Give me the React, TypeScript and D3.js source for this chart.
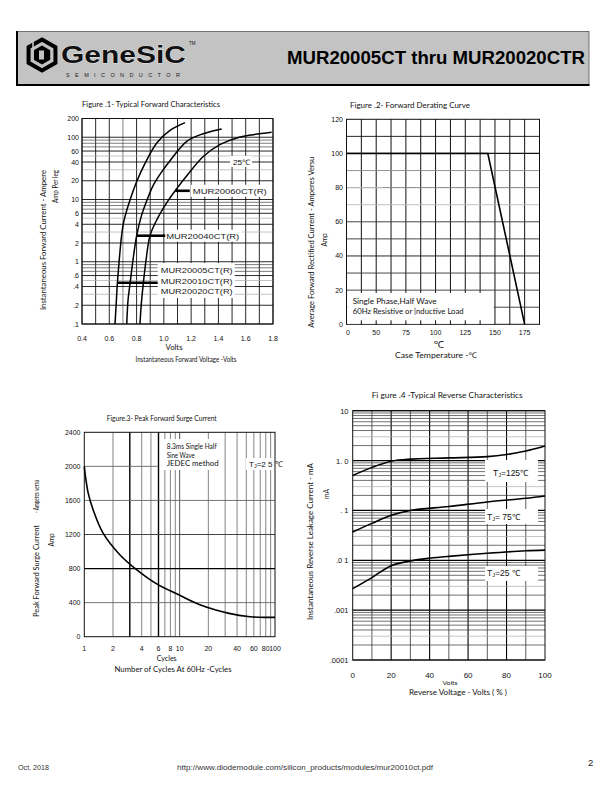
import React from "react";
import * as d3 from "d3";

// ---------------- Figure 1 data: Typical Forward Characteristics ----------------
const fig1XTicks = [0.4, 0.6, 0.8, 1.0, 1.2, 1.4, 1.6, 1.8];
const fig1XLabels = ["0.4", "0.6", "0.8", "1.0", "1.2", "1.4", "1.6", "1.8"];
const fig1YTicks = [200, 100, 60, 40, 20, 10, 6, 4, 2, 1, 0.6, 0.4, 0.2, 0.1];
const fig1YLabels = ["200", "100", "60", "40", "20", "10", "6", "4", "2", "1", ".6", ".4", ".2", ".1"];
// [volts, amps]
const fig1CurveLow: [number, number][] = [
  [0.642, 0.1], [0.65, 0.2], [0.659, 0.44], [0.672, 1.0], [0.69, 2.6], [0.708, 4.6],
  [0.752, 9.8], [0.801, 19.4], [0.862, 38], [0.948, 81], [1.045, 129], [1.155, 172],
];
const fig1CurveMid: [number, number][] = [
  [0.728, 0.1], [0.738, 0.25], [0.752, 0.44], [0.772, 1.0], [0.801, 2.65], [0.836, 5.5],
  [0.878, 10], [0.923, 17], [0.98, 27], [1.045, 42], [1.168, 86], [1.289, 114], [1.424, 136],
];
const fig1CurveHigh: [number, number][] = [
  [0.825, 0.1], [0.834, 0.2], [0.849, 0.44], [0.868, 1.0], [0.899, 2.65], [0.95, 4.8],
  [1.03, 9.5], [1.1, 15.5], [1.168, 24], [1.289, 49], [1.41, 76],
  [1.534, 97.5], [1.656, 110], [1.79, 120],
];
const fig1MarkerCurrents = [13.8, 2.62, 0.46];
const fig1MarkerVolts: [number, number][] = [[1.085, 1.19], [0.801, 1.01], [0.663, 0.955]];
const fig1Names = ["MUR20060CT(R)", "MUR20040CT(R)", "MUR20005CT(R)", "MUR20010CT(R)", "MUR20020CT(R)"];

// ---------------- Figure 2 data: Forward Derating Curve ----------------
const fig2XTicks = [25, 50, 75, 100, 125, 150, 175];
const fig2XLabels = ["0", "50", "75", "100", "125", "150", "175"];
const fig2YTicks = [0, 20, 40, 60, 80, 100, 120];
const fig2YLabels = ["0", "20", "40", "60", "80", "100", "120"];
const fig2Derating: [number, number][] = [[25, 100], [144, 100], [175, 0]];

// ---------------- Figure 3 data: Peak Forward Surge Current ----------------
const fig3XTicks = [1, 2, 4, 6, 8, 10, 20, 40, 60, 80, 100];
const fig3XLabels = ["1", "2", "4", "6", "8", "10", "20", "40", "60", "80", "100"];
const fig3YTicks = [0, 400, 800, 1200, 1600, 2000, 2400];
const fig3YLabels = ["0", "400", "800", "1200", "1600", "2000", "2400"];
const fig3Surge: [number, number][] = [
  [1.0, 2000], [1.03, 1878], [1.1, 1683], [1.24, 1487], [1.58, 1213], [2.37, 960],
  [3.4, 803], [5.75, 620], [9.9, 489], [16.3, 375], [33, 274], [54.7, 235], [80, 227], [100, 227],
];

// ---------------- Figure 4 data: Typical Reverse Characteristics ----------------
const fig4XTicks = [0, 20, 40, 60, 80, 100];
const fig4XLabels = ["0", "20", "40", "60", "80", "100"];
const fig4YTicks = [10, 1, 0.1, 0.01, 0.001, 0.0001];
const fig4YLabels = ["10", "1. 0", ". 1", ".0 1", ".001", ".0001"];
const fig4T125: [number, number][] = [
  [0, 0.5], [10, 0.73], [20, 0.97], [30, 1.07], [50, 1.13], [70, 1.2], [80, 1.32], [90, 1.55], [100, 1.95],
];
const fig4T75: [number, number][] = [
  [0, 0.037], [10, 0.055], [20, 0.08], [30, 0.1], [50, 0.12], [70, 0.148], [90, 0.175], [100, 0.195],
];
const fig4T25: [number, number][] = [
  [0, 0.0027], [10, 0.0045], [20, 0.0078], [30, 0.0097], [40, 0.011], [50, 0.012], [70, 0.0138], [90, 0.0155], [100, 0.016],
];
const fig4Temps = ["=125℃", "=  75℃", "=25 ℃"];

// ---------------- helpers ----------------
const ARIAL = "'Liberation Sans', Arial, sans-serif";
const HUM = "Lato, 'Open Sans', 'Noto Sans', sans-serif";

function Txt(p: {
  x: number; y: number; t: React.ReactNode; size?: number; anchor?: string; len?: number;
  font?: string; weight?: any; rot?: number; fill?: string; ls?: number;
}) {
  const props: any = {
    fontSize: p.size ?? 7, fontFamily: p.font ?? HUM, fill: p.fill ?? "#111",
    textAnchor: p.anchor ?? "start", fontWeight: p.weight,
  };
  if (p.ls) props.letterSpacing = p.ls;
  if (p.len) { props.textLength = p.len; props.lengthAdjust = "spacingAndGlyphs"; }
  if (p.rot) return <text transform={`translate(${p.x},${p.y}) rotate(${p.rot})`} {...props}>{p.t}</text>;
  return <text x={p.x} y={p.y} {...props}>{p.t}</text>;
}

function logMinors(lo: number, hi: number) {
  const out: { v: number; k: number }[] = [];
  for (let e = -6; e <= 4; e++) for (let k = 1; k <= 9; k++) {
    const v = k * Math.pow(10, e);
    if (v >= lo * 0.999 && v <= hi * 1.001) out.push({ v, k });
  }
  return out;
}

// ---------------- Header ----------------
function Header() {
  const cx = 42, cy = 55, r = 15.5;
  const hex = (rad: number) =>
    d3.range(6).map(i => {
      const a = (Math.PI / 3) * i - Math.PI / 2;
      return [cx + rad * Math.cos(a), cy + rad * Math.sin(a)].join(",");
    }).join(" ");
  return (
    <g>
      <rect x={17} y={31.5} width={572} height={53} fill="#c3c3c3" stroke="#555" strokeWidth={0.8} />
      <line x1={17} y1={31} x2={17} y2={85} stroke="#000" strokeWidth={2} />
      <line x1={16} y1={85} x2={589.5} y2={85} stroke="#000" strokeWidth={2} />
      <polygon points={hex(r)} fill="none" stroke="#000" strokeWidth={4} />
      <polygon points={hex(r - 6)} fill="#000" />
      <rect x={cx - 3} y={cy - 4.5} width={5} height={9} fill="#c3c3c3" />
      <path d={`M${cx - 9},${cy - 14} L${cx - 9},${cy + 6}`} stroke="#c3c3c3" strokeWidth={1.6} />
      <text x={61} y={63} fontFamily={ARIAL} fontWeight={900} fontSize={23} fill="#111"
        stroke="#fff" strokeWidth={0.6} paintOrder="stroke" textLength={125} lengthAdjust="spacingAndGlyphs">GeneSiC</text>
      <Txt x={189} y={45} t="TM" size={4.5} font={ARIAL} />
      <Txt x={66} y={77} t="SEMICONDUCTOR" size={5.5} font={ARIAL} ls={5.4} fill="#222" />
      <Txt x={287} y={64} t="MUR20005CT thru MUR20020CTR" size={18} font={ARIAL} weight="bold" len={298} fill="#000" />
    </g>
  );
}

// ---------------- Figure 1 ----------------
function Fig1() {
  const x = d3.scaleLinear().domain([0.4, 1.8]).range([82, 273]);
  const y = d3.scaleLog().domain([0.1, 200]).range([324, 118.5]);
  const [x0, x1] = x.range();
  const [yb, yt] = y.range();
  const vLines = d3.range(4, 19).map(d => d / 10);
  const hLines = logMinors(0.1, 200);
  const isTick = (v: number) => fig1YTicks.some(t => Math.abs(t - v) / t < 1e-6);
  const line = d3.line<[number, number]>().x(d => x(d[0])).y(d => y(d[1])).curve(d3.curveCatmullRom.alpha(0.5));
  return (
    <g>
      {vLines.map((v, i) => (
        <line key={"v" + i} x1={x(v)} x2={x(v)} y1={yt} y2={yb} stroke={i === 3 ? "#777" : "#111"} strokeWidth={0.9} />
      ))}
      {hLines.map((h, i) => {
        const tick = isTick(h.v);
        const col = tick ? "#111" : h.k === 3 || h.k === 5 ? "#aaa" : "#444";
        return <line key={"h" + i} x1={x0} x2={x1} y1={y(h.v)} y2={y(h.v)} stroke={col} strokeWidth={tick ? 0.9 : 0.7} />;
      })}
      <rect x={x0} y={yt} width={x1 - x0} height={yb - yt} fill="none" stroke="#111" strokeWidth={1} />
      {/* label backgrounds */}
      <rect x={230} y={156} width={22} height={11} fill="#fff" />
      <rect x={x(1.19) + 1} y={y(13.8) - 6} width={77} height={12} fill="#fff" />
      <rect x={x(1.01)} y={y(2.62) - 6} width={77} height={12} fill="#fff" />
      <rect x={x(0.955)} y={263} width={77} height={35} fill="#fff" />
      {/* curves */}
      {[fig1CurveLow, fig1CurveMid, fig1CurveHigh].map((c, i) => (
        <path key={"c" + i} d={line(c) || ""} fill="none" stroke="#000" strokeWidth={1.5} />
      ))}
      {fig1MarkerCurrents.map((cur, i) => (
        <line key={"m" + i} x1={x(fig1MarkerVolts[i][0])} x2={x(fig1MarkerVolts[i][1])} y1={y(cur)} y2={y(cur)} stroke="#000" strokeWidth={2.6} />
      ))}
      <Txt x={233} y={164.5} t="25℃" size={7.5} font={ARIAL} len={17} />
      <Txt x={x(1.19) + 3} y={y(13.8) + 3} t={fig1Names[0]} size={8} font={ARIAL} len={74} fill="#222" />
      <Txt x={x(1.01) + 1} y={y(2.62) + 3} t={fig1Names[1]} size={8} font={ARIAL} len={73} fill="#222" />
      <Txt x={x(0.955) + 3} y={273} t={fig1Names[2]} size={8} font={ARIAL} len={72} fill="#222" />
      <Txt x={x(0.955) + 3} y={283.5} t={fig1Names[3]} size={8} font={ARIAL} len={72} fill="#222" />
      <Txt x={x(0.955) + 3} y={294} t={fig1Names[4]} size={8} font={ARIAL} len={72} fill="#222" />
      {/* ticks */}
      {fig1YTicks.map((v, i) => (
        <Txt key={"yl" + i} x={79} y={y(v) + 2.5} t={fig1YLabels[i]} size={7} anchor="end" font={ARIAL} />
      ))}
      {fig1XTicks.map((v, i) => (
        <Txt key={"xl" + i} x={x(v)} y={341} t={fig1XLabels[i]} size={7} anchor="middle" font={ARIAL} />
      ))}
      <Txt x={82} y={106.5} t="Figure .1-  Typical Forward Characteristics" size={7} len={138} />
      <Txt x={46} y={240} t="Instantaneous  Forward  Current - Ampere" size={7} rot={-90} anchor="middle" len={140} />
      <Txt x={57.5} y={186.5} t="Amp   Per leg" size={7} rot={-90} anchor="middle" len={33} />
      <Txt x={174} y={350} t="Volts" size={7} anchor="middle" len={17} />
      <Txt x={186} y={361.5} t="Instantaneous Forward Voltage -Volts" size={7} anchor="middle" len={101} />
    </g>
  );
}

// ---------------- Figure 2 ----------------
function Fig2() {
  const x = d3.scaleLinear().domain([25, 187.5]).range([346.5, 539.5]);
  const y = d3.scaleLinear().domain([0, 120]).range([324.3, 119.3]);
  const [x0, x1] = x.range();
  const [yb, yt] = y.range();
  const vLines = d3.range(25, 188, 12.5);
  const hLines = d3.range(10, 120, 10);
  const hCol: Record<number, string> = { 10: "#333", 20: "#333", 30: "#333", 40: "#111", 50: "#333", 60: "#333", 70: "#bbb", 80: "#777", 90: "#888", 100: "#111", 110: "#111" };
  const line = d3.line<[number, number]>().x(d => x(d[0])).y(d => y(d[1]));
  const boxR = 493;
  return (
    <g>
      {vLines.map((v, i) => (
        <line key={"v" + i} x1={x(v)} x2={x(v)} y1={yt} y2={yb} stroke="#111" strokeWidth={1} />
      ))}
      {hLines.map((v, i) => (
        <line key={"h" + i} x1={x0} x2={x1} y1={y(v)} y2={y(v)} stroke={hCol[v]} strokeWidth={v === 100 ? 1.2 : 0.9} />
      ))}
      <line x1={x0} x2={383} y1={y(80)} y2={y(80)} stroke="#bbb" strokeWidth={1} />
      <rect x={x0} y={yt} width={x1 - x0} height={yb - yt} fill="none" stroke="#111" strokeWidth={1} />
      <rect x={x0 + 0.8} y={293} width={boxR - x0} height={yb - 293 - 0.6} fill="#fff" />
      {vLines.filter(v => x(v) < boxR && v > 25).map((v, i) => (
        <line key={"s" + i} x1={x(v)} x2={x(v)} y1={yb - 4} y2={yb} stroke="#111" strokeWidth={1} />
      ))}
      <path d={line(fig2Derating) || ""} fill="none" stroke="#000" strokeWidth={1.6} />
      <Txt x={352.7} y={304} t="Single Phase,Half Wave" size={7} len={84} />
      <Txt x={352.7} y={314} t="60Hz Resistive or |nductive Load" size={7} len={111} />
      {fig2YTicks.map((v, i) => (
        <Txt key={"yl" + i} x={343} y={y(v) + 2.5} t={fig2YLabels[i]} size={7} anchor="end" font={ARIAL} />
      ))}
      {fig2XTicks.map((v, i) => (
        <Txt key={"xl" + i} x={i === 0 ? x(v) + 1.5 : x(v)} y={334.5} t={fig2XLabels[i]} size={7} anchor="middle" font={ARIAL} />
      ))}
      <Txt x={350} y={107.5} t="Figure .2-  Forward Derating Curve" size={7} len={120} />
      <Txt x={314} y={242.3} t="Average Forward Rectified Current - Amperes Versu" size={7} rot={-90} anchor="middle" len={171} />
      <Txt x={326.5} y={240} t="Amp" size={7} rot={-90} anchor="middle" len={13} />
      <Txt x={439} y={348} t="℃" size={10} anchor="middle" />
      <Txt x={436} y={358} t="Case Temperature  -℃" size={7.5} anchor="middle" len={82} />
    </g>
  );
}

// ---------------- Figure 3 ----------------
function Fig3() {
  const x = d3.scaleLog().domain([1, 100]).range([84.3, 275]);
  const y = d3.scaleLinear().domain([0, 2400]).range([636.7, 432.3]);
  const [x0, x1] = x.range();
  const [yb, yt] = y.range();
  const vLines = logMinors(1, 100).filter(d => d.v > 1 && d.v < 100);
  const line = d3.line<[number, number]>().x(d => x(d[0])).y(d => y(d[1])).curve(d3.curveCatmullRom.alpha(0.5));
  return (
    <g>
      {vLines.map((d, i) => {
        const thick = d.v === 3 || d.v === 6;
        return <line key={"v" + i} x1={x(d.v)} x2={x(d.v)} y1={yt} y2={yb} stroke={thick ? "#000" : d.v === 10 ? "#444" : "#777"} strokeWidth={thick ? 1.4 : 0.9} />;
      })}
      <line x1={x0} x2={x1} y1={y(400)} y2={y(400)} stroke="#666" strokeWidth={0.9} />
      <line x1={x0} x2={x1} y1={y(800)} y2={y(800)} stroke="#000" strokeWidth={1.3} />
      <line x1={x0} x2={x1} y1={y(1200)} y2={y(1200)} stroke="#444" strokeWidth={1} />
      <line x1={x0} x2={x1} y1={y(1600)} y2={y(1600)} stroke="#666" strokeWidth={0.9} />
      <line x1={x0} x2={x(6)} y1={y(2000)} y2={y(2000)} stroke="#666" strokeWidth={0.9} />
      <rect x={x0} y={yt} width={x1 - x0} height={yb - yt} fill="none" stroke="#111" strokeWidth={1} />
      <rect x={163} y={439} width={60} height={31} fill="#fff" />
      <rect x={246} y={458} width={27} height={12} fill="#fff" />
      <path d={line(fig3Surge) || ""} fill="none" stroke="#000" strokeWidth={1.6} />
      <Txt x={166.7} y={449} t="8.3ms Single Half" size={7} len={50} />
      <Txt x={166.7} y={457.5} t="Sine Wave" size={7} len={28} />
      <Txt x={166.7} y={466} t="JEDEC method" size={7} len={52} />
      <text x={249} y={467} fontSize={8} fontFamily={ARIAL} fill="#111">T<tspan fontSize={5.5} dy={1}>J</tspan><tspan dy={-1}>=2 5 ℃</tspan></text>
      {fig3YTicks.map((v, i) => (
        <Txt key={"yl" + i} x={80.5} y={y(v) + 2.5} t={fig3YLabels[i]} size={7} anchor="end" font={ARIAL} />
      ))}
      {fig3XTicks.map((v, i) => (
        <Txt key={"xl" + i} x={x(v)} y={651} t={fig3XLabels[i]} size={7} anchor="middle" font={ARIAL} />
      ))}
      <Txt x={106.7} y={421} t="Figure.3- Peak Forward Surge Current" size={7} len={110} />
      <Txt x={38.5} y={571} t="Peak Forward Surge Current" size={7} rot={-90} anchor="middle" len={92} />
      <Txt x={38.5} y={496.5} t="- Amperes versu" size={7} rot={-90} anchor="middle" len={33} />
      <Txt x={54} y={540} t="Amp" size={7} rot={-90} anchor="middle" len={13} />
      <Txt x={166.7} y={661} t="Cycles" size={7} anchor="middle" len={20} />
      <Txt x={173} y={671.5} t="Number of Cycles At 60Hz -Cycles" size={7} anchor="middle" len={117} />
    </g>
  );
}

// ---------------- Figure 4 ----------------
function Fig4() {
  const x = d3.scaleLinear().domain([0, 100]).range([352.7, 545]);
  const y = d3.scaleLog().domain([0.0001, 10]).range([660, 410.7]);
  const [x0, x1] = x.range();
  const [yb, yt] = y.range();
  const vLines = d3.range(10, 100, 10);
  const hLines = logMinors(0.0001, 10);
  const line = d3.line<[number, number]>().x(d => x(d[0])).y(d => y(d[1])).curve(d3.curveCatmullRom.alpha(0.5));
  const curves = [fig4T125, fig4T75, fig4T25];
  const boxes = [{ y: 460, h: 22, ty: 475.5 }, { y: 509, h: 15, ty: 519.5 }, { y: 566, h: 15, ty: 576 }];
  return (
    <g>
      {vLines.map((v, i) => (
        <line key={"v" + i} x1={x(v)} x2={x(v)} y1={yt} y2={yb} stroke={v % 20 === 0 ? "#000" : "#333"} strokeWidth={v % 20 === 0 ? 1.1 : 0.8} />
      ))}
      {hLines.map((h, i) => {
        const major = h.k === 1;
        const col = major ? "#000" : h.k === 3 ? "#aaa" : "#333";
        return <line key={"h" + i} x1={x0} x2={x1} y1={y(h.v)} y2={y(h.v)} stroke={col} strokeWidth={major ? 1.2 : 0.7} />;
      })}
      <rect x={x0} y={yt} width={x1 - x0} height={yb - yt} fill="none" stroke="#111" strokeWidth={1} />
      {boxes.map((b, i) => (
        <rect key={"b" + i} x={485} y={b.y} width={53} height={b.h} fill="#fff" />
      ))}
      {curves.map((c, i) => (
        <path key={"c" + i} d={line(c) || ""} fill="none" stroke="#000" strokeWidth={1.6} />
      ))}
      {fig4Temps.map((t, i) => (
        <text key={"t" + i} x={i === 0 ? 493 : 487} y={boxes[i].ty} fontSize={8.5} fontFamily={ARIAL} fill="#111">
          T<tspan fontSize={5.5} dy={1}>J</tspan><tspan dy={-1}>{t}</tspan>
        </text>
      ))}
      {fig4YTicks.map((v, i) => (
        <Txt key={"yl" + i} x={348.5} y={y(v) + 3} t={fig4YLabels[i]} size={7.5} anchor="end" font={ARIAL} />
      ))}
      {fig4XTicks.map((v, i) => (
        <Txt key={"xl" + i} x={x(v)} y={678} t={fig4XLabels[i]} size={8} anchor="middle" font={ARIAL} />
      ))}
      <Txt x={371.7} y={397.5} t="Fi gure .4 -Typical  Reverse   Characteristics" size={7} len={151} />
      <Txt x={312.5} y={541.5} t="Instantaneous  Reverse  Leakage  Current - mA" size={7} rot={-90} anchor="middle" len={157} />
      <Txt x={329} y={494} t="mA" size={7.5} rot={-90} anchor="middle" len={10} />
      <Txt x={450} y={684.5} t="Volts" size={6.5} anchor="middle" len={15} />
      <Txt x={458} y={695} t="Reverse  Voltage - Volts ( % )" size={7} anchor="middle" len={98} />
    </g>
  );
}

function Footer() {
  return (
    <g>
      <Txt x={18} y={770} t="Oct. 2018" size={6.5} font={ARIAL} fill="#333" len={31} />
      <Txt x={177} y={770} t="http://www.diodemodule.com/silicon_products/modules/mur20010ct.pdf" size={6.5} font={ARIAL} fill="#333" len={256} />
      <Txt x={588} y={766} t="2" size={9.5} font={ARIAL} fill="#222" />
    </g>
  );
}

export default function App() {
  return (
    <svg width={612} height={792} viewBox="0 0 612 792" style={{ position: "absolute", left: 0, top: 0, background: "#fff" }}>
      <rect width={612} height={792} fill="#fff" />
      <Header />
      <Fig1 />
      <Fig2 />
      <Fig3 />
      <Fig4 />
      <Footer />
    </svg>
  );
}
